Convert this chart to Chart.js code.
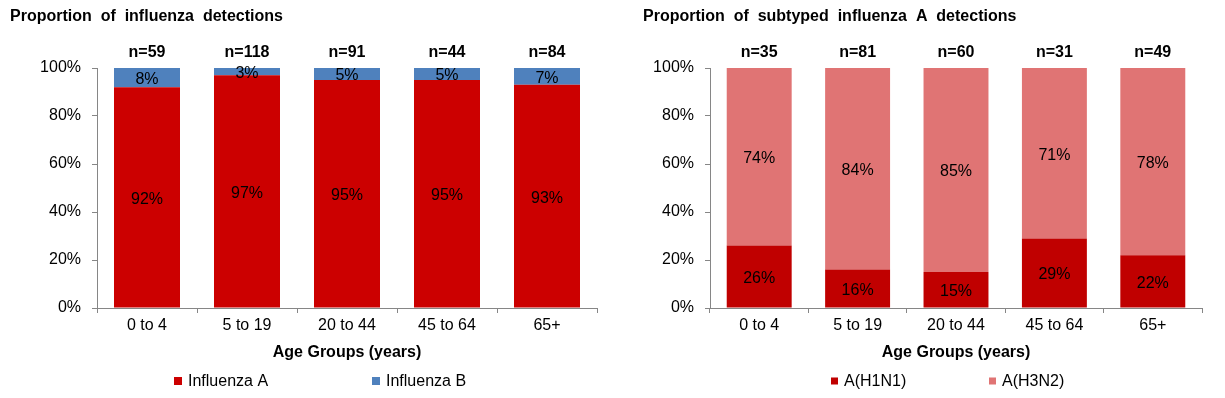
<!DOCTYPE html>
<html>
<head>
<meta charset="utf-8">
<script src="https://cdn.jsdelivr.net/npm/chart.js@4"></script>
<style>
  html, body { margin: 0; padding: 0; background: #fff; }
  .panel { position: absolute; top: 0; height: 398px; }
  #leftPanel  { left: 0;     width: 612px; }
  #rightPanel { left: 612px; width: 613px; }
</style>
</head>
<body>
<div class="panel" id="leftPanel"><canvas id="leftChart"></canvas></div>
<div class="panel" id="rightPanel"><canvas id="rightChart"></canvas></div>

<script>
// ── Data ──────────────────────────────────────────────────────
const ageGroups   = ['0 to 4', '5 to 19', '20 to 44', '45 to 64', '65+'];
const yTicks      = [0, 20, 40, 60, 80, 100];

const fluA        = [92, 97, 95, 95, 93];
const fluB        = [8, 3, 5, 5, 7];
const fluCounts   = [59, 118, 91, 44, 84];

const h1n1        = [26, 16, 15, 29, 22];
const h3n2        = [74, 84, 85, 71, 78];
const subtypeCounts = [35, 81, 60, 31, 49];

// ── Shared look ───────────────────────────────────────────────
const FONT   = "'Liberation Sans', Arial, sans-serif";
const AXIS   = '#868686';
Chart.defaults.font.family = FONT;
Chart.defaults.color       = '#000';

// ── Annotation plugin: title, n labels, value labels, legend ──
const annotate = {
  id: 'annotate',
  afterDatasetsDraw(chart, args, opts) {
    const ctx = chart.ctx;
    const y   = chart.scales.y;
    ctx.save();
    ctx.fillStyle = '#000';
    ctx.textBaseline = 'middle';

    // title
    ctx.font = `bold 16px ${FONT}`;
    ctx.textAlign = 'left';
    ctx.fillText(opts.title, opts.titleX, 17);

    // value labels
    ctx.font = `16px ${FONT}`;
    ctx.textAlign = 'center';
    chart.data.datasets.forEach((ds, i) => {
      chart.getDatasetMeta(i).data.forEach((bar, j) => {
        ctx.fillText(ds.data[j] + '%', bar.x, (bar.y + bar.base) / 2 + 2);
      });
    });

    // n= labels above the stacks
    ctx.font = `bold 16px ${FONT}`;
    const topY = y.getPixelForValue(100) - 15;
    chart.getDatasetMeta(0).data.forEach((bar, j) => {
      ctx.fillText('n=' + opts.counts[j], bar.x, topY);
    });

    // legend
    ctx.font = `16px ${FONT}`;
    ctx.textAlign = 'left';
    chart.data.datasets.forEach((ds, i) => {
      const x = opts.legendX[i];
      ctx.fillStyle = ds.backgroundColor;
      ctx.fillRect(x, 381 - opts.box / 2, opts.box, opts.box);
      ctx.fillStyle = '#000';
      ctx.fillText(ds.label, x + opts.box + 6, 382);
    });
    ctx.restore();
  }
};

// ── Chart builder ─────────────────────────────────────────────
const makeChart = (canvasId, cfg) => {
  new Chart(document.getElementById(canvasId), {
    type: 'bar',
    data: {
      labels: ageGroups,
      datasets: cfg.series.map(s => ({
        label:           s.label,
        data:            s.data,
        backgroundColor: s.color,
        barPercentage:   0.66,
        categoryPercentage: 1
      }))
    },
    options: {
      animation: false,
      responsive: true,
      maintainAspectRatio: false,
      layout: { padding: { top: 68, bottom: 30, right: cfg.padRight, left: 0 } },
      plugins: {
        legend:  { display: false },
        tooltip: { enabled: false },
        annotate: {
          title:   cfg.title,
          titleX:  cfg.titleX,
          counts:  cfg.counts,
          legendX: cfg.legendX,
          box:     cfg.box
        }
      },
      scales: {
        x: {
          stacked: true,
          grid:   { drawOnChartArea: false, color: AXIS, tickLength: 5, offset: true },
          border: { color: AXIS },
          ticks:  { font: { size: 16 }, padding: 3, color: '#000' },
          title:  {
            display: true,
            text: 'Age Groups (years)',
            font: { size: 16, weight: 'bold' },
            padding: { top: 0, bottom: 6 }
          },
          afterFit: scale => { scale.height = 60; }
        },
        y: {
          stacked: true,
          min: 0,
          max: 100,
          afterBuildTicks: scale => { scale.ticks = yTicks.map(v => ({ value: v })); },
          grid:   { drawOnChartArea: false, color: AXIS, tickLength: 5 },
          border: { color: AXIS },
          ticks:  { font: { size: 16 }, padding: 11, color: '#000', callback: v => v + '%' },
          afterFit: scale => { scale.width = cfg.axisWidth; }
        }
      }
    },
    plugins: [annotate]
  });
};

// ── Init ──────────────────────────────────────────────────────
makeChart('leftChart', {
  title:     'Proportion  of  influenza  detections',
  titleX:    10,
  counts:    fluCounts,
  legendX:   [174, 372],
  box:       8,
  axisWidth: 97,
  padRight:  15,
  series: [
    { label: 'Influenza A', data: fluA, color: '#CC0000' },
    { label: 'Influenza B', data: fluB, color: '#4F81BD' }
  ]
});

makeChart('rightChart', {
  title:     'Proportion  of  subtyped  influenza  A  detections',
  titleX:    31,
  counts:    subtypeCounts,
  legendX:   [219, 377],
  box:       7,
  axisWidth: 98,
  padRight:  23,
  series: [
    { label: 'A(H1N1)', data: h1n1, color: '#C00000' },
    { label: 'A(H3N2)', data: h3n2, color: '#E07474' }
  ]
});
</script>
</body>
</html>
